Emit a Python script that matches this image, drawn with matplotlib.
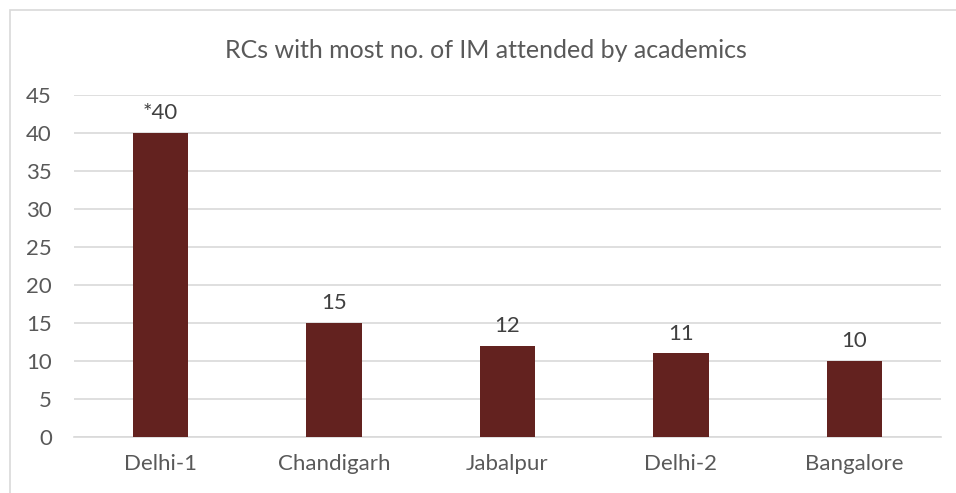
import matplotlib
matplotlib.use("Agg")
import matplotlib.pyplot as plt
from matplotlib.patches import Rectangle

categories = ["Delhi-1", "Chandigarh", "Jabalpur", "Delhi-2", "Bangalore"]
values = [40, 15, 12, 11, 10]
labels = ["*40", "15", "12", "11", "10"]
yticks = [0, 5, 10, 15, 20, 25, 30, 35, 40, 45]
title = "RCs with most no. of IM attended by academics"

plt.rcParams['font.family'] = ['Lato', 'DejaVu Sans']
W, H = 956, 493
fig = plt.figure(figsize=(W/100, H/100), dpi=100)
fig.patches.append(Rectangle((10/W, -0.1), 1.2, 1 - 10/H + 0.1, transform=fig.transFigure,
                             fill=False, edgecolor="#d9d9d9", linewidth=1.2))
ax = fig.add_axes([74/W, 1 - 437/H, (941-74)/W, (437-95)/H])
x = range(len(categories))
ax.bar(x, values, width=0.32, color="#63221f", zorder=3)
for i, (v, l) in enumerate(zip(values, labels)):
    ax.text(i, v + 1.3, l, ha="center", va="bottom", fontsize=16, color="#404040")
ax.set_xlim(-0.5, len(categories) - 0.5)
ax.set_ylim(0, 45)
ax.set_yticks(yticks)
ax.set_xticks(list(x))
ax.set_xticklabels(categories)
ax.grid(axis="y", color="#d9d9d9", linewidth=1.2, zorder=0)
for s in ["top", "right", "left"]:
    ax.spines[s].set_visible(False)
ax.spines["bottom"].set_color("#d9d9d9")
ax.spines["bottom"].set_linewidth(1.2)
ax.tick_params(axis="both", length=0, labelsize=16, labelcolor="#595959")
ax.tick_params(axis="y", pad=16)
ax.tick_params(axis="x", pad=12)
fig.text(486/W, 1 - 50/H, title, ha="center", va="center", fontsize=18, color="#595959")
fig.savefig("out.png", dpi=100)
